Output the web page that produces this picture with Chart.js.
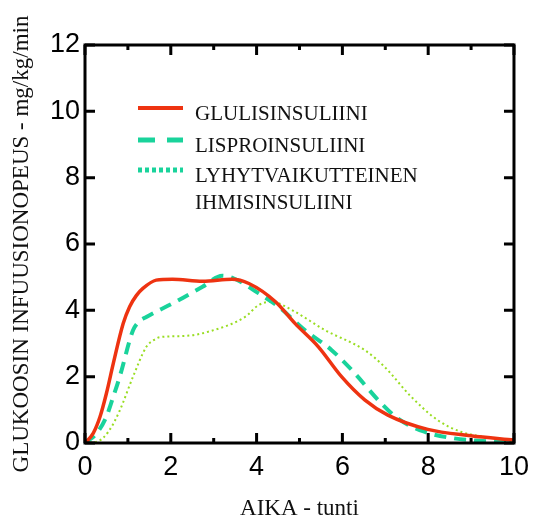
<!DOCTYPE html>
<html>
<head>
<meta charset="utf-8">
<script src="https://cdn.jsdelivr.net/npm/chart.js@4"></script>
<style>
  html, body { margin: 0; padding: 0; background: #fff; }
  #wrap { width: 537px; height: 517px; }
</style>
</head>
<body>
<div id="wrap"><canvas id="myChart" width="537" height="517"></canvas></div>
<script>
// data (hours, mg/kg/min)
var labels = ['GLULISINSULIINI', 'LISPROINSULIINI', ['LYHYTVAIKUTTEINEN', 'IHMISINSULIINI']];
var xTicks = [0, 2, 4, 6, 8, 10];
var yTicks = [0, 2, 4, 6, 8, 10, 12];

var glulisinT = [0, 0.19, 0.35, 0.5, 0.66, 0.89, 1.04, 1.2, 1.35, 1.66, 2.04, 2.74, 3.43, 3.82, 4.44, 4.9, 5.44, 5.98, 6.52, 7.06, 7.99, 8.99, 10];
var glulisinY = [0, 0.29, 0.79, 1.5, 2.4, 3.6, 4.11, 4.45, 4.66, 4.91, 4.94, 4.88, 4.94, 4.81, 4.26, 3.6, 2.9, 2.0, 1.3, 0.84, 0.41, 0.22, 0.09];

var lisproT = [0, 0.27, 0.5, 0.66, 0.81, 1.12, 1.25, 1.43, 2.12, 2.74, 3.2, 3.47, 4.05, 4.51, 5.13, 5.75, 6.29, 6.83, 7.29, 7.91, 8.6, 9.53, 10];
var lisproY = [0, 0.29, 0.8, 1.4, 2.0, 3.4, 3.65, 3.8, 4.26, 4.71, 5.04, 4.96, 4.51, 4.11, 3.4, 2.8, 2.1, 1.3, 0.74, 0.34, 0.14, 0.04, 0.02];

var humanT = [0, 0.3, 0.55, 0.8, 1.12, 1.43, 1.6, 1.74, 2.35, 2.89, 3.74, 4.05, 4.36, 4.82, 5.6, 6.52, 6.98, 7.6, 8.22, 8.76, 9.53, 10];
var humanY = [0, 0.05, 0.35, 0.95, 2.0, 2.9, 3.1, 3.19, 3.23, 3.36, 3.81, 4.16, 4.26, 4.01, 3.4, 2.8, 2.3, 1.4, 0.69, 0.34, 0.14, 0.05];

function pts(xs, ys) {
  return xs.map(function (x, i) { return { x: x, y: ys[i] }; });
}

var red = '#ee3311';
var teal = '#19d39b';
var lime = '#99dd22';

// frame, inward ticks and the legend inside the plot
var framePlugin = {
  id: 'frame',
  afterDraw: function (chart) {
    var c = chart.ctx, a = chart.chartArea;
    var xs = chart.scales.x, ys = chart.scales.y;
    c.save();
    c.strokeStyle = '#000';
    c.lineWidth = 3;
    c.lineCap = 'butt';
    c.strokeRect(a.left, a.top, a.right - a.left, a.bottom - a.top);
    yTicks.forEach(function (v) {
      var p = ys.getPixelForValue(v);
      c.beginPath();
      c.moveTo(a.left, p); c.lineTo(a.left + 10, p);
      c.moveTo(a.right, p); c.lineTo(a.right - 10, p);
      c.stroke();
    });
    for (var v = 0; v <= 10; v++) {
      var p = xs.getPixelForValue(v);
      var len = v % 2 === 0 ? 10 : 5;
      c.beginPath();
      c.moveTo(p, a.bottom); c.lineTo(p, a.bottom - len);
      c.moveTo(p, a.top); c.lineTo(p, a.top + len);
      c.stroke();
    }

    // legend
    var samples = [
      { color: red, dash: [], width: 4 },
      { color: teal, dash: [17, 12], width: 5 },
      { color: teal, dash: [4, 3], width: 5 }
    ];
    var ly = [108, 140, 170];
    c.font = '21px "Liberation Serif", "Times New Roman", serif';
    c.fillStyle = '#111';
    c.textBaseline = 'alphabetic';
    labels.forEach(function (lab, i) {
      var s = samples[i];
      c.strokeStyle = s.color;
      c.lineWidth = s.width;
      c.setLineDash(s.dash);
      c.beginPath();
      c.moveTo(138, ly[i]); c.lineTo(183, ly[i]);
      c.stroke();
      c.setLineDash([]);
      var lines = Array.isArray(lab) ? lab : [lab];
      lines.forEach(function (t, j) {
        c.fillText(t, 195, ly[i] + 12 + j * 27);
      });
    });
    c.restore();
  }
};

var ctx = document.getElementById('myChart').getContext('2d');
var myChart = new Chart(ctx, {
  type: 'line',
  data: {
    datasets: [
      {
        label: 'GLULISINSULIINI',
        data: pts(glulisinT, glulisinY),
        borderColor: red,
        borderWidth: 3.5,
        pointRadius: 0,
        cubicInterpolationMode: 'monotone',
        order: 1
      },
      {
        label: 'LISPROINSULIINI',
        data: pts(lisproT, lisproY),
        borderColor: teal,
        borderWidth: 4,
        borderDash: [12, 8],
        pointRadius: 0,
        cubicInterpolationMode: 'monotone',
        order: 2
      },
      {
        label: 'LYHYTVAIKUTTEINEN IHMISINSULIINI',
        data: pts(humanT, humanY),
        borderColor: lime,
        borderWidth: 2,
        borderDash: [2, 3],
        pointRadius: 0,
        cubicInterpolationMode: 'monotone',
        order: 3
      }
    ]
  },
  options: {
    responsive: false,
    animation: false,
    layout: { padding: { top: 45, right: 20, left: 0, bottom: 0 } },
    plugins: {
      legend: { display: false },
      tooltip: { enabled: false }
    },
    scales: {
      x: {
        type: 'linear',
        min: 0, max: 10,
        afterFit: function (s) { s.height = 74; },
        afterBuildTicks: function (s) { s.ticks = xTicks.map(function (v) { return { value: v }; }); },
        grid: { display: false, drawTicks: false },
        border: { display: false },
        ticks: {
          padding: 8,
          color: '#000',
          font: { family: '"Liberation Sans", Arial, sans-serif', size: 27 }
        },
        title: {
          display: true,
          text: 'AIKA - tunti',
          color: '#111',
          padding: { top: 0, bottom: -6 },
          font: { family: '"Liberation Serif", "Times New Roman", serif', size: 23 }
        }
      },
      y: {
        min: 0, max: 12,
        afterFit: function (s) { s.width = 85; },
        afterBuildTicks: function (s) { s.ticks = yTicks.map(function (v) { return { value: v }; }); },
        grid: { display: false, drawTicks: false },
        border: { display: false },
        ticks: {
          padding: 5,
          color: '#000',
          font: { family: '"Liberation Sans", Arial, sans-serif', size: 27 }
        },
        title: {
          display: true,
          text: 'GLUKOOSIN INFUUSIONOPEUS - mg/kg/min',
          color: '#111',
          padding: { top: 8, bottom: 0 },
          font: { family: '"Liberation Serif", "Times New Roman", serif', size: 23 }
        }
      }
    }
  },
  plugins: [framePlugin]
});
</script>
</body>
</html>
